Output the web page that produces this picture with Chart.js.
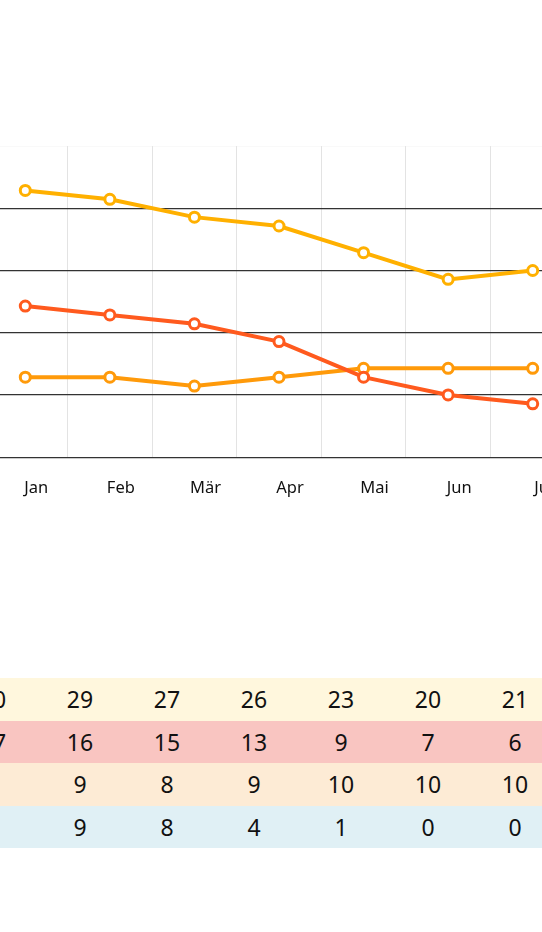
<!DOCTYPE html>
<html>
<head>
<meta charset="utf-8">
<script src="https://cdn.jsdelivr.net/npm/chart.js@4/dist/chart.umd.min.js"></script>
<style>
  html, body { margin: 0; padding: 0; background: #fff; }
  body { width: 542px; height: 932px; overflow: hidden; position: relative; }
  #wrap { position: absolute; left: -17px; top: 146px; width: 592px; height: 373px; }
  #tbl { position: absolute; left: -50.5px; top: 678px; width: 609px; table-layout: fixed;
         border-collapse: collapse;
         font-family: "Noto Sans", "Open Sans", sans-serif; font-size: 23px; color: #111; }
  #tbl td { width: 87px; height: 42.5px; padding: 0; text-align: center; vertical-align: middle; }
</style>
</head>
<body>
<div id="wrap"><canvas id="c"></canvas></div>
<table id="tbl"></table>
<script>
const months   = ['Jan', 'Feb', 'Mär', 'Apr', 'Mai', 'Jun', 'Jul'];
const tempMax  = [30, 29, 27, 26, 23, 20, 21];
const tempMin  = [17, 16, 15, 13, 9, 7, 6];
const sunHours = [9, 9, 8, 9, 10, 10, 10];
const rainDays = [null, 9, 8, 4, 1, 0, 0];
const yMin = 0, yMax = 35, yStep = 7;

const rows = [
  { values: tempMax,  bg: '#fff7dd' },
  { values: tempMin,  bg: '#f9c5c1' },
  { values: sunHours, bg: '#fdebd5' },
  { values: rainDays, bg: '#e0f0f5' }
];
const tbl = document.getElementById('tbl');
rows.forEach(r => {
  const tr = document.createElement('tr');
  tr.style.background = r.bg;
  r.values.forEach(v => {
    const td = document.createElement('td');
    td.textContent = v === null ? '' : String(v);
    tr.appendChild(td);
  });
  tbl.appendChild(tr);
});

function ds(label, data, color, order) {
  return {
    label, data, order,
    borderColor: color, backgroundColor: '#fff',
    borderWidth: 4, pointRadius: 5, pointBorderWidth: 3,
    pointBackgroundColor: '#fff', pointBorderColor: color,
    tension: 0, fill: false
  };
}

new Chart(document.getElementById('c'), {
  type: 'line',
  data: {
    labels: months,
    datasets: [
      ds('Max', tempMax, '#ffb000', 2),
      ds('Min', tempMin, '#ff5a1e', 0),
      ds('Sonne', sunHours, '#ff9a0a', 1)
    ]
  },
  options: {
    responsive: true, maintainAspectRatio: false, animation: false,
    layout: { padding: 0, autoPadding: false },
    plugins: { legend: { display: false }, tooltip: { enabled: false } },
    scales: {
      x: {
        offset: true,
        grid: { offset: true, color: '#e3e3e3', lineWidth: 1, drawTicks: false },
        border: { display: false },
        ticks: { color: '#111', font: { family: 'Noto Sans', size: 16.5 }, padding: 21, labelOffset: 11, maxRotation: 0 }
      },
      y: {
        min: yMin, max: yMax,
        ticks: { display: false, stepSize: yStep },
        border: { display: false },
        grid: {
          drawTicks: false,
          color: ctx => (ctx.tick && ctx.tick.value === yMax) ? '#e6e6e6' : '#333333',
          lineWidth: 1.2
        }
      }
    }
  }
});
</script>
</body>
</html>
